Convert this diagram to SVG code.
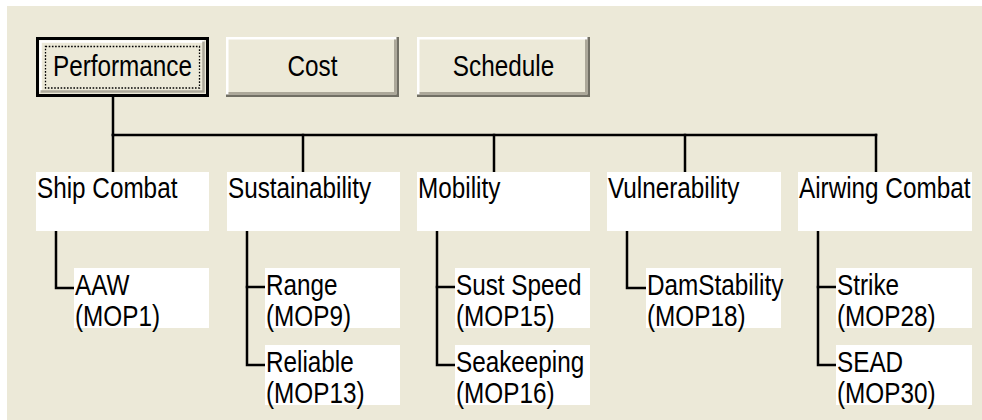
<svg xmlns="http://www.w3.org/2000/svg" width="982" height="420" viewBox="0 0 982 420">
<style>
  .bg{fill:#ECE9D8}
  .face{fill:#ECE9D8}
  .hi{fill:none;stroke:#FFFFFF;stroke-width:2.5}
  .sh{fill:none;stroke:#ACA899;stroke-width:2.5}
  .dk{fill:none;stroke:#716F64;stroke-width:2.5}
  .box{fill:#FFFFFF}
  .t{font-family:"Liberation Sans",Arial,sans-serif;font-size:30px;fill:#000}
  .tc{text-anchor:middle}
  .ln{fill:none;stroke:#000;stroke-width:2.5;stroke-linejoin:miter;stroke-linecap:square}
  .focus{fill:none;stroke:#000;stroke-width:1.3;stroke-dasharray:1.6 1.6}
</style>
<rect x="0" y="0" width="982" height="420" fill="#FFFFFF"/>
<rect class="bg" x="7" y="6" width="975" height="414"/>

<g id="connectors">
  <polyline class="ln" points="113,97 113,135"/>
  <polyline class="ln" points="113,135 876,135"/>
  <polyline class="ln" points="113,135 113,172"/>
  <polyline class="ln" points="303,135 303,172"/>
  <polyline class="ln" points="494,135 494,172"/>
  <polyline class="ln" points="685,135 685,172"/>
  <polyline class="ln" points="876,135 876,172"/>
  <polyline class="ln" points="56,231 56,288 74,288"/>
  <polyline class="ln" points="247,231 247,365 265,365"/>
  <polyline class="ln" points="247,287 265,287"/>
  <polyline class="ln" points="437,231 437,365 455,365"/>
  <polyline class="ln" points="437,287 455,287"/>
  <polyline class="ln" points="627,231 627,288 646,288"/>
  <polyline class="ln" points="818,231 818,365 836,365"/>
  <polyline class="ln" points="818,287 836,287"/>
</g>

<g id="btn-performance">
  <rect x="36" y="37" width="173" height="60" fill="#000"/>
  <rect class="face" x="39" y="40" width="167" height="54"/>
  <polyline class="hi" points="40.5,92 40.5,41.5 204,41.5"/>
  <polyline class="sh" points="40.5,91.5 203.5,91.5 203.5,41.5"/>
  <rect class="focus" x="45.5" y="46.5" width="154" height="41.5"/>
  <text class="t tc" transform="translate(122.5,76) scale(0.81,1)">Performance</text>
</g>

<g id="btn-cost">
  <rect class="face" x="226" y="37" width="173" height="60"/>
  <polyline class="hi" points="227.25,96 227.25,38.25 398,38.25"/>
  <polyline class="dk" points="226,95.75 397.75,95.75 397.75,37"/>
  <polyline class="sh" points="228.5,93.25 395.25,93.25 395.25,39.5"/>
  <text class="t tc" transform="translate(312.5,76) scale(0.81,1)">Cost</text>
</g>

<g id="btn-schedule">
  <rect class="face" x="417" y="37" width="173" height="60"/>
  <polyline class="hi" points="418.25,96 418.25,38.25 589,38.25"/>
  <polyline class="dk" points="417,95.75 588.75,95.75 588.75,37"/>
  <polyline class="sh" points="419.5,93.25 586.25,93.25 586.25,39.5"/>
  <text class="t tc" transform="translate(503.5,76) scale(0.81,1)">Schedule</text>
</g>

<g id="ship-combat">
  <rect class="box" x="36" y="172" width="173" height="59"/>
  <text class="t" transform="translate(37,198) scale(0.81,1)">Ship Combat</text>
</g>
<g id="sustainability">
  <rect class="box" x="227" y="172" width="173" height="59"/>
  <text class="t" transform="translate(228,198) scale(0.81,1)">Sustainability</text>
</g>
<g id="mobility">
  <rect class="box" x="417" y="172" width="173" height="59"/>
  <text class="t" transform="translate(418,198) scale(0.81,1)">Mobility</text>
</g>
<g id="vulnerability">
  <rect class="box" x="607" y="172" width="174" height="59"/>
  <text class="t" transform="translate(608,198) scale(0.81,1)">Vulnerability</text>
</g>
<g id="airwing-combat">
  <rect class="box" x="798" y="172" width="174" height="59"/>
  <text class="t" transform="translate(799,198) scale(0.81,1)">Airwing Combat</text>
</g>

<g id="aaw">
  <rect class="box" x="74" y="268" width="135" height="60"/>
  <text class="t" transform="translate(75,295) scale(0.81,1)">AAW</text>
  <text class="t" transform="translate(75,326) scale(0.81,1)">(MOP1)</text>
</g>
<g id="range">
  <rect class="box" x="265" y="268" width="135" height="60"/>
  <text class="t" transform="translate(266,295) scale(0.81,1)">Range</text>
  <text class="t" transform="translate(266,326) scale(0.81,1)">(MOP9)</text>
</g>
<g id="reliable">
  <rect class="box" x="265" y="345" width="135" height="60"/>
  <text class="t" transform="translate(266,372) scale(0.81,1)">Reliable</text>
  <text class="t" transform="translate(266,403) scale(0.81,1)">(MOP13)</text>
</g>
<g id="sust-speed">
  <rect class="box" x="455" y="268" width="135" height="60"/>
  <text class="t" transform="translate(456,295) scale(0.81,1)">Sust Speed</text>
  <text class="t" transform="translate(456,326) scale(0.81,1)">(MOP15)</text>
</g>
<g id="seakeeping">
  <rect class="box" x="455" y="345" width="135" height="60"/>
  <text class="t" transform="translate(456,372) scale(0.81,1)">Seakeeping</text>
  <text class="t" transform="translate(456,403) scale(0.81,1)">(MOP16)</text>
</g>
<g id="damstability">
  <rect class="box" x="646" y="268" width="135" height="60"/>
  <text class="t" transform="translate(647,295) scale(0.81,1)">DamStability</text>
  <text class="t" transform="translate(647,326) scale(0.81,1)">(MOP18)</text>
</g>
<g id="strike">
  <rect class="box" x="836" y="268" width="136" height="60"/>
  <text class="t" transform="translate(837,295) scale(0.81,1)">Strike</text>
  <text class="t" transform="translate(837,326) scale(0.81,1)">(MOP28)</text>
</g>
<g id="sead">
  <rect class="box" x="836" y="345" width="136" height="60"/>
  <text class="t" transform="translate(837,372) scale(0.81,1)">SEAD</text>
  <text class="t" transform="translate(837,403) scale(0.81,1)">(MOP30)</text>
</g>
</svg>
